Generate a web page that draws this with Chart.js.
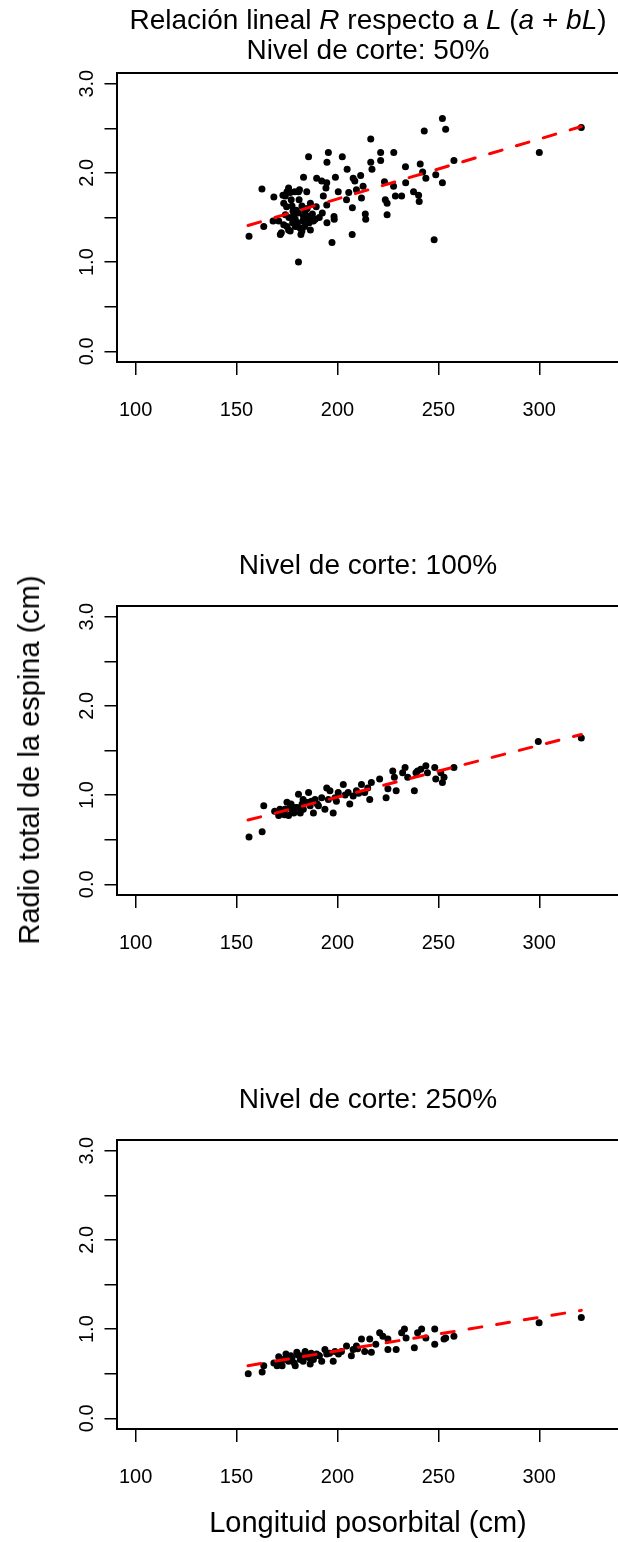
<!DOCTYPE html>
<html lang="es">
<head>
<meta charset="UTF-8">
<title>Relación lineal R respecto a L</title>
<style>
  body { margin: 0; background: #fff; overflow: hidden; font-family: "Liberation Sans", Arial, sans-serif; }
  .wrap { position: relative; width: 618px; height: 1542px; overflow: hidden; }
  canvas { position: absolute; left: 0; }
  .txt { position: absolute; font-size: 28px; line-height: 30px; color: #000; white-space: nowrap; }
  .centro { left: 68px; width: 600px; text-align: center; }
  .eje { font-size: 29px; }
  .vertical { transform: translate(-50%, -50%) rotate(-90deg); }
</style>
</head>
<body>
<div class="wrap">
  <canvas id="panel50" width="618" height="440" style="top:0px"></canvas>
  <canvas id="panel100" width="618" height="440" style="top:533px"></canvas>
  <canvas id="panel250" width="618" height="440" style="top:1067px"></canvas>

  <div class="txt centro" style="top:5px">Relación lineal <i>R</i> respecto a <i>L</i> (<i>a</i> + <i>bL</i>)</div>
  <div class="txt centro" id="t50" style="top:35px"></div>
  <div class="txt centro" id="t100" style="top:550px"></div>
  <div class="txt centro" id="t250" style="top:1084px"></div>
  <div class="txt eje vertical" style="left:29px; top:760px">Radio total de la espina (cm)</div>
  <div class="txt eje centro" style="top:1507px">Longituid posorbital (cm)</div>
</div>

<script src="https://cdn.jsdelivr.net/npm/chart.js"></script>
<script>
  // ticks
  const xTicks = [100, 150, 200, 250, 300];
  const yTicks = [0, 0.5, 1, 1.5, 2, 2.5, 3];
  const titulos = ['Nivel de corte: 50%', 'Nivel de corte: 100%', 'Nivel de corte: 250%'];

  // nivel de corte 50%
  const L50 = [156.2, 162.6, 163.5, 168.5, 168.1, 170.9, 171.7, 172.2, 173.4, 174.2,
               175.0, 175.8, 176.6, 177.1, 177.5, 178.0, 178.3, 179.1, 180.0, 180.4,
               180.7, 181.2, 181.6, 182.4, 183.2, 184.0, 184.8, 185.3, 185.7, 186.0,
               186.6, 187.3, 188.1, 189.0, 174.2, 175.0, 175.8, 176.6, 173.4, 179.1,
               180.7, 182.4, 178.8, 180.7, 185.7, 183.2, 181.9, 186.6, 189.7, 192.2,
               194.7, 194.3, 195.5, 194.8, 193.0, 192.5, 194.7, 194.8, 197.3, 198.3,
               198.4, 199.0, 202.4, 200.4, 204.8, 204.5, 205.6, 207.4, 207.3, 207.8,
               208.6, 211.5, 209.4, 212.7, 211.9, 213.8, 214.0, 216.5, 216.5, 217.1,
               221.4, 221.4, 223.3, 223.7, 224.6, 224.6, 227.9, 227.8, 228.7, 231.8,
               233.7, 233.8, 237.7, 240.2, 240.5, 241.0, 242.2, 243.8, 243.0, 247.9,
               248.7, 252.0, 253.6, 252.0, 257.7, 300.0, 320.8,
               173.0, 174.8, 176.0, 177.8, 179.6, 181.0, 182.8, 183.8, 185.0, 187.6,
               189.5, 191.0];
  const R50 = [1.29, 1.82, 1.40, 1.73, 1.46, 1.46, 1.31, 1.33, 1.66, 1.74,
               1.79, 1.83, 1.78, 1.70, 1.63, 1.57, 1.51, 1.48, 1.44, 1.40,
               1.79, 1.81, 1.38, 1.35, 1.51, 1.57, 1.79, 1.48, 1.51, 1.44,
               1.36, 1.48, 1.46, 1.48, 1.53, 1.40, 1.36, 1.35, 1.42, 1.40,
               1.55, 1.63, 1.79, 1.00, 2.18, 1.95, 1.31, 1.66, 1.94, 1.91,
               1.89, 1.83, 2.23, 2.12, 1.74, 1.55, 1.64, 1.44, 1.22, 1.51,
               1.48, 1.95, 2.18, 1.79, 2.04, 1.70, 1.78, 1.61, 1.31, 1.94,
               1.91, 1.97, 1.81, 1.85, 1.72, 1.54, 1.48, 2.38, 2.12, 2.04,
               2.23, 2.14, 1.90, 1.70, 1.66, 1.53, 2.23, 1.85, 1.74, 1.74,
               2.07, 1.89, 1.79, 1.75, 1.68, 2.10, 2.01, 1.94, 2.47, 1.25,
               1.98, 2.61, 2.49, 1.89, 2.14, 2.23, 2.51,
               1.75, 1.62, 1.50, 1.44, 1.58, 1.70, 1.46, 1.40, 1.60, 1.54,
               1.62, 1.50];

  // nivel de corte 100%
  const L100 = [156.2, 162.7, 163.5, 168.9, 170.9, 172.6, 175.0, 175.8, 177.5, 179.1,
                180.7, 181.6, 184.0, 185.7, 186.5, 188.1, 188.9, 192.2, 193.8, 194.7,
                196.3, 197.9, 198.8, 200.4, 202.9, 205.3, 206.1, 207.8, 209.4, 211.9,
                213.5, 216.0, 216.8, 220.9, 224.1, 225.0, 227.4, 228.2, 229.1, 232.3,
                233.5, 234.8, 238.1, 238.9, 239.7, 241.3, 243.8, 244.6, 248.2, 248.7,
                251.2, 252.0, 252.8, 257.7, 299.5, 320.8,
                171.5, 173.8, 176.6, 178.4, 182.5, 183.1, 187.2, 190.6, 195.5, 203.8,
                174.0, 177.0, 180.0, 183.0, 186.0, 190.0, 199.5, 210.5, 215.0];
  const R100 = [0.53, 0.59, 0.88, 0.82, 0.77, 0.80, 0.92, 0.77, 0.82, 0.86,
                1.01, 0.80, 0.92, 1.03, 0.88, 0.80, 0.95, 0.97, 0.84, 1.08,
                1.05, 0.80, 0.97, 1.03, 1.12, 1.03, 0.90, 0.99, 1.05, 1.12,
                1.03, 0.95, 1.14, 1.18, 0.97, 1.07, 1.27, 1.20, 1.05, 1.25,
                1.31, 1.20, 1.05, 1.25, 1.27, 1.29, 1.33, 1.25, 1.31, 1.18,
                1.25, 1.14, 1.20, 1.31, 1.60, 1.64,
                0.84, 0.78, 0.86, 0.80, 0.90, 0.84, 0.93, 0.88, 0.95, 1.00,
                0.84, 0.90, 0.86, 0.95, 0.92, 0.90, 0.93, 1.02, 1.08];

  // nivel de corte 250%
  const L250 = [155.8, 162.7, 163.5, 168.5, 170.1, 170.9, 172.6, 174.5, 175.8, 177.5,
                179.1, 179.9, 181.6, 184.0, 184.8, 186.5, 188.1, 189.7, 192.2, 193.8,
                194.7, 197.9, 198.8, 202.0, 204.5, 206.9, 207.8, 209.4, 211.9, 213.5,
                216.0, 216.8, 220.9, 222.5, 225.0, 225.0, 229.1, 231.8, 233.2, 234.0,
                238.1, 239.7, 241.7, 243.8, 248.2, 248.2, 252.8, 253.6, 257.7, 299.9, 320.8,
                173.2, 176.9, 178.6, 182.7, 186.0, 190.9, 196.1,
                171.8, 175.0, 180.5, 183.0, 187.0, 191.0, 200.5, 210.0, 219.0];
  const R250 = [0.50, 0.52, 0.59, 0.62, 0.59, 0.69, 0.59, 0.72, 0.64, 0.68,
                0.59, 0.74, 0.66, 0.75, 0.70, 0.61, 0.66, 0.72, 0.64, 0.77,
                0.72, 0.64, 0.75, 0.75, 0.81, 0.70, 0.77, 0.81, 0.89, 0.75,
                0.89, 0.74, 0.96, 0.92, 0.89, 0.77, 0.77, 0.96, 1.00, 0.90,
                0.79, 0.96, 1.00, 0.90, 1.00, 0.83, 0.89, 0.90, 0.92, 1.07, 1.13,
                0.66, 0.70, 0.62, 0.70, 0.68, 0.70, 0.73,
                0.63, 0.66, 0.71, 0.64, 0.73, 0.70, 0.72, 0.78, 0.83];

  // recta ajustada (extremos)
  const lineaL = [155.7, 320.8];
  const linea50 = [1.41, 2.52];
  const linea100 = [0.72, 1.68];
  const linea250 = [0.59, 1.21];

  const FONT = '"Liberation Sans", Arial, sans-serif';

  const toPoints = (xs, ys) => xs.map((x, i) => ({ x: x, y: ys[i] }));

  // marco del panel (caja de R)
  const marco = {
    id: 'marco',
    afterDatasetsDraw(chart) {
      const a = chart.chartArea;
      const ctx = chart.ctx;
      ctx.save();
      ctx.strokeStyle = '#000';
      ctx.lineWidth = 2;
      ctx.strokeRect(a.left, a.top, a.right - a.left + 10, a.bottom - a.top);
      ctx.restore();
    }
  };

  function panel(id, xs, ys, linea) {
    new Chart(document.getElementById(id), {
      type: 'scatter',
      data: {
        datasets: [
          {
            type: 'line',
            data: toPoints(lineaL, linea),
            borderColor: '#ff0000',
            borderWidth: 3,
            borderDash: [13, 15],
            borderCapStyle: 'round',
            pointRadius: 0,
            fill: false,
            order: 0
          },
          {
            data: toPoints(xs, ys),
            backgroundColor: '#000',
            borderWidth: 0,
            pointRadius: 3.5,
            order: 1
          }
        ]
      },
      options: {
        responsive: false,
        animation: false,
        devicePixelRatio: 1,
        layout: { padding: { top: 73, left: 0, right: 0, bottom: 0 } },
        plugins: { legend: { display: false }, tooltip: { enabled: false } },
        scales: {
          x: {
            type: 'linear',
            min: 90.8,
            max: 337.0,
            afterBuildTicks: s => { s.ticks = xTicks.map(v => ({ value: v })); },
            afterFit: s => { s.height = 78; },
            border: { display: false },
            grid: { drawOnChartArea: false, drawTicks: true, tickLength: 13, color: '#000', lineWidth: 1.5 },
            ticks: { color: '#000', font: { family: FONT, size: 20 }, padding: 23, maxRotation: 0 }
          },
          y: {
            min: -0.12,
            max: 3.12,
            afterBuildTicks: s => { s.ticks = yTicks.map(v => ({ value: v })); },
            afterFit: s => { s.width = 117; },
            border: { display: false },
            grid: { drawOnChartArea: false, drawTicks: true, tickLength: 12.5, color: '#000', lineWidth: 1.5 },
            ticks: {
              color: '#000',
              font: { family: FONT, size: 20 },
              minRotation: 90,
              maxRotation: 90,
              crossAlign: 'center',
              padding: 3,
              callback: v => (v % 1 === 0 ? v.toFixed(1) : '')
            }
          }
        }
      },
      plugins: [marco]
    });
  }

  document.getElementById('t50').textContent = titulos[0];
  document.getElementById('t100').textContent = titulos[1];
  document.getElementById('t250').textContent = titulos[2];

  panel('panel50', L50, R50, linea50);
  panel('panel100', L100, R100, linea100);
  panel('panel250', L250, R250, linea250);
</script>
</body>
</html>
